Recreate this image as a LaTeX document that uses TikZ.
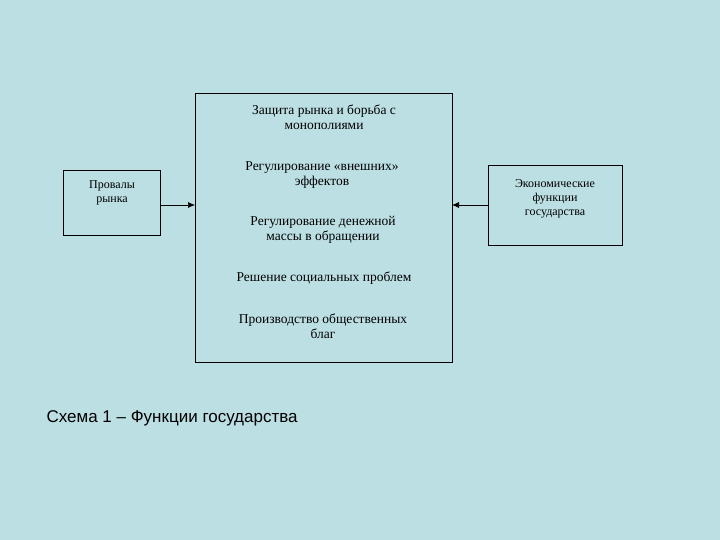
\documentclass[tikz,border=0pt]{standalone}
\usepackage{fontspec}
\usetikzlibrary{arrows.meta}
\setmainfont{Liberation Serif}
\newfontfamily\capfont{Liberation Sans}
\begin{document}
\begin{tikzpicture}[x=1pt,y=-1pt,
  box/.style={draw=black,line width=0.6pt},
  txt/.style={align=center,font=\fontsize{13.5}{15.5}\selectfont},
  arr/.style={-{Latex[length=7pt,width=6pt]},line width=0.6pt}]
\fill[fill={rgb,255:red,188;green,223;blue,228}] (0,0) rectangle (720,540);
\useasboundingbox (0,0) rectangle (720,540);
\draw[box] (63,170) rectangle (160,235);
\draw[box] (195,93) rectangle (452,362);
\draw[box] (488,165) rectangle (622,245);
\coordinate (lc) at (160,205); \coordinate (cl) at (195,205);
\coordinate (rc) at (488,205); \coordinate (cr) at (452,205);
\draw[arr] (lc) -- (cl);
\draw[arr] (rc) -- (cr);
\node[txt,font=\fontsize{12}{14}\selectfont] (a) at (112,193) {Провалы\\рынка};
\node[txt,font=\fontsize{12}{14}\selectfont] (b) at (555,199) {Экономические\\функции\\государства};
\node[txt] (c1) at (324,117) {Защита рынка и борьба с\\монополиями};
\node[txt] (c2) at (322,175) {Регулирование «внешних»\\эффектов};
\node[txt] (c3) at (323,230) {Регулирование денежной\\массы в обращении};
\node[txt] (c4) at (324,278) {Решение социальных проблем};
\node[txt] (c5) at (323,326) {Производство общественных\\благ};
\node[font=\capfont\fontsize{17}{19}\selectfont,anchor=west] (cap) at (43,418) {Схема 1 – Функции государства};
\end{tikzpicture}
\end{document}
